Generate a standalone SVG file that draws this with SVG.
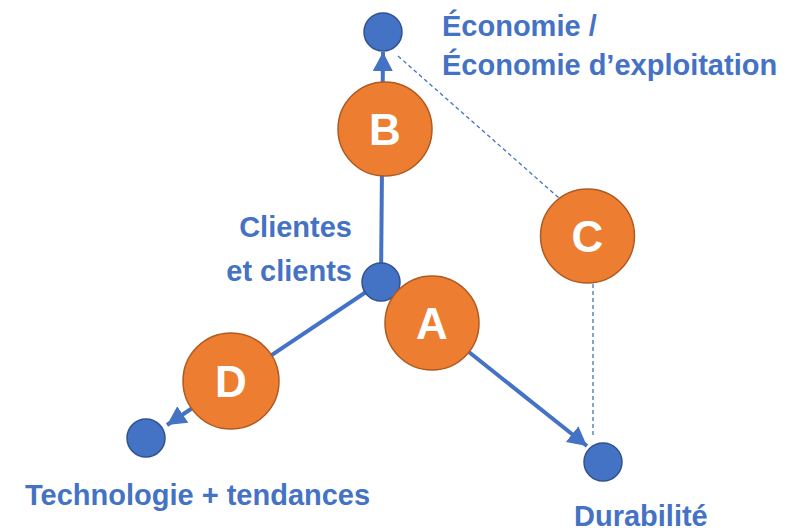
<svg xmlns="http://www.w3.org/2000/svg" width="808" height="532" viewBox="0 0 808 532">
<style>
.lbl{font-family:"Liberation Sans",Arial,sans-serif;font-weight:bold;font-size:29px;fill:#4472C4}
.dot{fill:#4472C4;stroke:#2F528F;stroke-width:1.5}
.big{fill:#ED7D31;stroke:#AE5A21;stroke-width:1.5}
.let{font-family:"Liberation Sans",Arial,sans-serif;font-weight:bold;font-size:44px;fill:#FFFFFF;text-anchor:middle}
.ln{stroke:#4472C4;stroke-width:4;fill:none}
.dash{stroke:#4472C4;stroke-width:1.3;stroke-dasharray:4 3;fill:none}
</style>
<defs>
<marker id="ah" markerUnits="userSpaceOnUse" markerWidth="22" markerHeight="22" refX="19" refY="10" orient="auto">
<path d="M0,0 L19,10 L0,20 z" fill="#4472C4"/>
</marker>
</defs>
<rect width="808" height="532" fill="#FFFFFF"/>
<g id="connectors">
<line class="ln" x1="381" y1="282" x2="383" y2="52" marker-end="url(#ah)"/>
<line class="ln" x1="381" y1="282" x2="167" y2="425" marker-end="url(#ah)"/>
<line class="ln" x1="381" y1="282" x2="587" y2="446" marker-end="url(#ah)"/>
<line class="dash" x1="398" y1="56" x2="559" y2="198"/>
<line class="dash" x1="593" y1="284" x2="593" y2="436"/>
</g>
<g id="n-economie">
<circle class="dot" cx="383" cy="32" r="19"/>
<text class="lbl" x="442" y="36">Économie /</text>
<text class="lbl" x="442" y="75">Économie d’exploitation</text>
</g>
<g id="n-clients">
<circle class="dot" cx="381" cy="282" r="19"/>
<text class="lbl" x="352" y="237" text-anchor="end">Clientes</text>
<text class="lbl" x="352" y="281" text-anchor="end">et clients</text>
</g>
<g id="n-technologie">
<circle class="dot" cx="146" cy="438" r="19"/>
<text class="lbl" x="25" y="505">Technologie + tendances</text>
</g>
<g id="n-durabilite">
<circle class="dot" cx="603" cy="462" r="19"/>
<text class="lbl" x="574" y="526">Durabilité</text>
</g>
<g id="n-B">
<circle class="big" cx="385" cy="129" r="47"/>
<text class="let" x="385" y="145">B</text>
</g>
<g id="n-C">
<circle class="big" cx="587.5" cy="236" r="47"/>
<text class="let" x="587.5" y="252">C</text>
</g>
<g id="n-A">
<circle class="big" cx="432" cy="323" r="47"/>
<text class="let" x="432" y="339">A</text>
</g>
<g id="n-D">
<circle class="big" cx="231" cy="381" r="48"/>
<text class="let" x="231" y="397">D</text>
</g>
</svg>
